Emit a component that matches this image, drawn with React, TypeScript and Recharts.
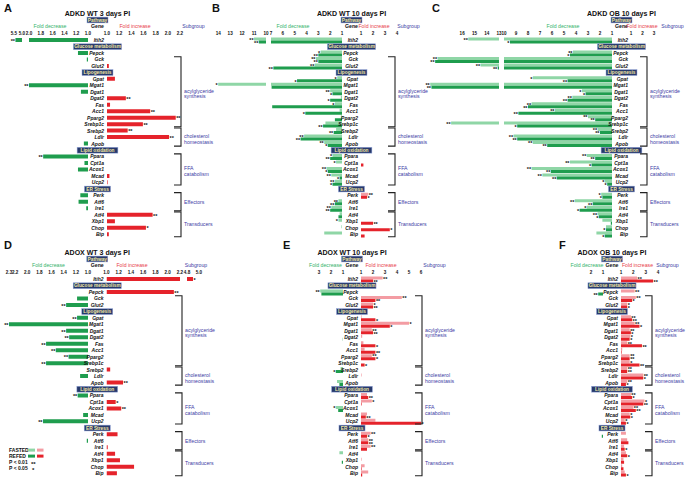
import React from 'react';
import { BarChart, Bar, XAxis, YAxis, LabelList } from 'recharts';

// gene rows, top to bottom
const GENES = [
  'Itih2', 'Pepck', 'Gck', 'Glut2', 'Gpat', 'Mgat1', 'Dgat1', 'Dgat2', 'Fas', 'Acc1',
  'Pparg2', 'Srebp1c', 'Srebp2', 'Ldlr', 'Apob', 'Ppara', 'Cpt1a', 'Acox1', 'Mcad', 'Ucp2',
  'Perk', 'Atf6', 'Ire1', 'Atf4', 'Xbp1', 'Chop', 'Bip',
];
const SECTIONS = ['Glucose metabolism', 'Lipogenesis', 'Lipid oxidation', 'ER Stress'];
const ROWS = [
  'Itih2', 'Glucose metabolism', 'Pepck', 'Gck', 'Glut2', 'Lipogenesis', 'Gpat', 'Mgat1', 'Dgat1',
  'Dgat2', 'Fas', 'Acc1', 'Pparg2', 'Srebp1c', 'Srebp2', 'Ldlr', 'Apob', 'Lipid oxidation', 'Ppara',
  'Cpt1a', 'Acox1', 'Mcad', 'Ucp2', 'ER Stress', 'Perk', 'Atf6', 'Ire1', 'Atf4', 'Xbp1', 'Chop', 'Bip',
];
const SUBGROUPS = [
  { first: 'Gck', last: 'Srebp1c', lines: ['acylglyceride', 'synthesis'] },
  { first: 'Srebp2', last: 'Apob', lines: ['cholesterol', 'homeostasis'] },
  { first: 'Ppara', last: 'Ucp2', lines: ['FFA', 'catabolism'] },
  { first: 'Perk', last: 'Ire1', lines: ['Effectors'] },
  { first: 'Atf4', last: 'Bip', lines: ['Transducers'] },
];

// fold change: negative = fold decrease, positive = fold increase
const A_REFED = [-5.4, -1.17, -1.02, 1.03, 1.13, -2.0, -1.12, 1.31, 1.05, 1.71, 2.13, 1.59, 1.34, 2.02, -1.07, -1.76, -1.06, -1.17, 1.04, 1.01, -1.13, -1.16, -1.03, 1.75, 1.13, 1.64, 1.03];
const A_SIG_R = ['**', '', '', '', '', '**', '', '**', '', '**', '**', '**', '**', '**', '', '**', '', '', '', '', '', '', '', '**', '', '*', ''];

const B_FASTED = [-11.0, -2.8, -3.2, -3.3, -1.4, -14.0, -2.0, -1.1, -1.6, -1.2, -1.1, -2.4, -1.5, -4.2, -2.5, -1.8, -1.5, -2.3, -1.9, -1.6, 1.6, -1.3, -1.9, -1.2, -1.3, -1.05, -2.5];
const B_REFED = [-10.6, -3.0, -3.0, -6.8, -4.8, -6.95, -1.8, -2.0, -6.9, -4.1, -1.6, -2.6, -1.7, -4.5, -2.2, -2.0, 1.2, -2.2, -1.2, -1.8, 1.5, -1.6, -2.0, -1.3, 2.0, 3.4, 1.3];
const B_SIG_F = ['**', '*', '**', '**', '*', '*', '**', '', '*', '', '', '', '', '**', '**', '*', '*', '**', '**', '**', '**', '**', '**', '', '*', '', ''];
const B_SIG_R = ['**', '**', '**', '**', '*', '', '*', '*', '', '*', '', '**', '**', '**', '*', '**', '', '*', '*', '*', '*', '**', '**', '', '**', '*', ''];

const C_FASTED = [-15.5, -4.25, -18.0, -14.5, -7.6, -18.6, -3.5, -4.3, -7.7, -5.75, -3.0, -16.9, -2.2, -9.2, -7.6, -3.1, -4.5, -7.7, -6.8, -1.6, -1.9, -4.1, -3.1, -2.2, -1.8, -1.5, -2.3];
const C_REFED = [-9.5, -4.5, -18.2, -13.1, -4.7, -18.5, -3.2, -4.7, -8.0, -8.8, -2.4, -8.9, -2.0, -8.9, -6.4, -2.4, -2.7, -6.1, -5.6, -1.4, -1.8, -2.6, -3.7, -2.1, -1.1, -1.5, -1.6];
const C_SIG_F = ['**', '**', '**', '**', '*', '**', '*', '**', '**', '**', '**', '**', '**', '**', '**', '**', '**', '**', '**', '*', '*', '**', '*', '**', '', '', ''];
const C_SIG_R = ['*', '*', '**', '**', '**', '**', '*', '**', '**', '**', '**', '*', '**', '**', '**', '**', '*', '**', '**', '*', '*', '**', '*', '*', '', '*', '*'];

const D_REFED = [4.9, 2.1, -1.18, -1.36, -1.18, -2.3, -1.36, -1.31, -1.69, -1.53, -1.32, -1.69, 1.06, -1.13, 1.27, -1.17, 1.15, 1.24, -1.08, -1.74, 1.18, -1.02, 1.02, 1.14, 1.22, 1.45, 1.17];
const D_SIG_R = ['*', '**', '', '**', '**', '**', '**', '**', '**', '**', '**', '**', '', '', '**', '**', '*', '**', '', '**', '', '', '', '', '', '', ''];

const E_FASTED = [2.8, -2.9, 4.4, 2.0, 1.05, 5.0, 1.9, 1.1, 1.2, 1.3, 1.9, -1.05, -1.2, 1.05, -1.5, 1.5, 1.9, -1.6, 1.5, 2.2, 1.8, 1.6, 1.8, -1.3, 1.05, 1.3, 1.6];
const E_REFED = [2.0, -2.8, 2.2, 2.0, 2.2, 3.4, 2.0, -1.02, 2.2, 2.2, 2.2, 1.3, -1.6, null, -1.3, 1.6, 1.05, -1.4, 1.4, 6.0, 1.5, 1.6, 1.5, null, -1.1, 1.05, 1.1];
const E_SIG_F = ['**', '**', '**', '*', '', '*', '**', '', '', '', '**', '', '', '', '', '', '*', '*', '', '', '**', '**', '**', '', '', '', ''];
const E_SIG_R = ['**', '', '**', '**', '*', '*', '**', '', '*', '**', '*', '*', '*', '', '', '**', '', '', '**', '*', '*', '**', '', '', '', '', ''];

const F_FASTED = [2.3, 2.1, 2.2, 1.5, 1.8, 2.1, 1.7, 1.75, 1.5, 1.1, 1.7, 1.7, 1.5, 2.8, 1.5, 1.8, 2.9, 2.0, 1.7, 1.3, 1.4, 1.5, 1.25, 1.4, 1.2, 1.1, 1.3];
const F_REFED = [3.6, -1.4, 1.9, 1.5, 1.9, 2.5, 1.8, 1.7, 2.7, 1.05, 1.7, 2.5, 1.5, 2.8, 1.4, 1.9, 2.8, 2.2, 1.75, 1.4, -1.1, 1.6, 1.3, 1.5, 1.25, 1.2, 1.4];
const F_SIG_F = ['**', '**', '**', '*', '**', '**', '**', '*', '**', '', '**', '*', '**', '**', '**', '**', '*', '**', '*', '*', '', '', '', '', '', '', ''];
const F_SIG_R = ['**', '**', '*', '*', '**', '*', '*', '*', '**', '', '**', '**', '**', '*', '*', '*', '**', '**', '*', '*', '', '', '*', '*', '', '', '*'];

const GREEN_D = '#1f9d4e';
const GREEN_L = '#8fd6a6';
const RED_D = '#e5232b';
const RED_L = '#f39ca3';
const NAVY = '#27396b';
const BLUE_TXT = '#3d3da6';

const ROW_H = 6.47;
const AXIS_H = 7;
const FONT = '"Liberation Sans", Arial, sans-serif';

type Seg = { domain: [number, number]; ticks: number[]; x0: number; x1: number };
type Panel = {
  id: string; title: string; letterX: number; dy: number; cx: number;
  decX: number; incX: number; subX: number; bracketX: number; labelX: number; digits: number;
  left: Seg[]; right: Seg[];
  fasted: (number | null)[] | null; refed: (number | null)[];
  sigF: string[] | null; sigR: string[];
};

const PANELS: Panel[] = [
  {
    id: 'A', title: 'ADKD WT 3 days PI', letterX: 4, dy: 0, cx: 97.5,
    decX: 50, incX: 135, subX: 193.5, bracketX: 181, labelX: 184, digits: 1,
    left: [
      { domain: [1, 2], ticks: [1, 1.2, 1.4, 1.6, 1.8, 2], x0: 88, x1: 29 },
      { domain: [5, 5.55], ticks: [5, 5.5], x0: 22, x1: 13 },
    ],
    right: [{ domain: [1, 2.2], ticks: [1, 1.2, 1.4, 1.6, 1.8, 2, 2.2], x0: 107, x1: 180 }],
    fasted: null, refed: A_REFED, sigF: null, sigR: A_SIG_R,
  },
  {
    id: 'B', title: 'ADKD WT 10 days PI', letterX: 212, dy: 0, cx: 351.5,
    decX: 293, incX: 374, subX: 408.5, bracketX: 395, labelX: 398, digits: 0,
    left: [
      { domain: [1, 7], ticks: [1, 2, 3, 4, 5, 6, 7], x0: 342, x1: 271 },
      { domain: [10, 14.1], ticks: [10, 11, 12, 13, 14], x0: 266, x1: 217 },
    ],
    right: [{ domain: [1, 4], ticks: [1, 2, 3, 4], x0: 361, x1: 397 }],
    fasted: B_FASTED, refed: B_REFED, sigF: B_SIG_F, sigR: B_SIG_R,
  },
  {
    id: 'C', title: 'ADKD OB 10 days PI', letterX: 432, dy: 0, cx: 621.5,
    decX: 563, incX: 642, subX: 672.5, bracketX: 647, labelX: 650, digits: 0,
    left: [
      { domain: [1, 10], ticks: [1, 2, 3, 4, 5, 6, 7, 8, 9, 10], x0: 612, x1: 504 },
      { domain: [13, 18.7], ticks: [13, 14, 15, 16], x0: 499, x1: 429 },
    ],
    right: [{ domain: [1, 3], ticks: [1, 2, 3], x0: 631, x1: 654 }],
    fasted: C_FASTED, refed: C_REFED, sigF: C_SIG_F, sigR: C_SIG_R,
  },
  {
    id: 'D', title: 'ADOX WT 3 days PI', letterX: 4, dy: 239, cx: 97.25,
    decX: 48.5, incX: 132, subX: 196, bracketX: 182, labelX: 185, digits: 1,
    left: [{ domain: [1, 2.3], ticks: [1, 1.2, 1.4, 1.6, 1.8, 2, 2.2, 2.3], x0: 88, x1: 9 }],
    right: [
      { domain: [1, 2.2], ticks: [1, 1.2, 1.4, 1.6, 1.8, 2, 2.2], x0: 106.5, x1: 180 },
      { domain: [4.8, 5.0], ticks: [4.8, 5.0], x0: 187, x1: 199 },
    ],
    fasted: null, refed: D_REFED, sigF: null, sigR: D_SIG_R,
  },
  {
    id: 'E', title: 'ADOX WT 10 days PI', letterX: 283, dy: 239, cx: 352,
    decX: 325.5, incX: 381, subX: 434.5, bracketX: 422, labelX: 425, digits: 0,
    left: [{ domain: [1, 3], ticks: [1, 2, 3], x0: 343, x1: 319 }],
    right: [{ domain: [1, 6], ticks: [1, 2, 3, 4, 5, 6], x0: 361, x1: 421 }],
    fasted: E_FASTED, refed: E_REFED, sigF: E_SIG_F, sigR: E_SIG_R,
  },
  {
    id: 'F', title: 'ADOX OB 10 days PI', letterX: 559, dy: 239, cx: 612,
    decX: 587, incX: 637.5, subX: 667.5, bracketX: 652, labelX: 655, digits: 0,
    left: [{ domain: [1, 2], ticks: [1, 2], x0: 603, x1: 591 }],
    right: [{ domain: [1, 4], ticks: [1, 2, 3, 4], x0: 621, x1: 658 }],
    fasted: F_FASTED, refed: F_REFED, sigF: F_SIG_F, sigR: F_SIG_R,
  },
];

const PLOT_TOP = 36.77;

function segRows(seg: Seg, side: 'L' | 'R', p: Panel) {
  const [lo, hi] = seg.domain;
  const part = (v: number | null | undefined, s: string): [number, string] => {
    if (v == null) return [lo, ''];
    const m = side === 'L' ? -v : v;
    if (m <= lo) return [lo, ''];
    return m > hi ? [hi, ''] : [m, s];
  };
  return ROWS.map((name) => {
    const g = GENES.indexOf(name);
    if (g < 0) return { name, f: lo, r: lo, sf: '', sr: '' };
    const [f, sf] = part(p.fasted ? p.fasted[g] : null, p.sigF ? p.sigF[g] : '');
    const [r, sr] = part(p.refed[g], p.sigR[g]);
    return { name, f, r, sf, sr };
  });
}

function stars(props: any, side: 'L' | 'R') {
  const v = props.value;
  if (!v) return null;
  const vb = props.viewBox || props;
  const a = vb.x;
  const b = vb.x + vb.width;
  const cy = vb.y + vb.height / 2;
  const end = side === 'L' ? Math.min(a, b) - 0.5 : Math.max(a, b) + 0.5;
  return (
    <text x={end} y={cy + 2.8} textAnchor={side === 'L' ? 'end' : 'start'} fontSize={5.5} fontWeight={700} fill="#111">
      {v}
    </text>
  );
}

function RowTick(props: any) {
  const { x, y, payload, colW } = props;
  const name = payload.value;
  if (SECTIONS.includes(name)) {
    const cx = x + 3 - colW / 2;
    const w = name.length * 2.45 + 4;
    return (
      <g>
        <rect x={cx - w / 2} y={y - 2.9} width={w} height={5.8} fill={NAVY} stroke="#8fa2d8" strokeWidth={0.5} />
        <text x={cx} y={y + 1.7} textAnchor="middle" fontSize={4.8} fontWeight={700} fill="#f3e8a4">{name}</text>
      </g>
    );
  }
  return (
    <text x={x} y={y + 1.8} textAnchor="end" fontSize={5} fontWeight={700} fontStyle="italic" fill="#111">{name}</text>
  );
}

function SegChart({ seg, side, p, colW }: { seg: Seg; side: 'L' | 'R'; p: Panel; colW: number }) {
  const two = p.fasted !== null;
  const rows = segRows(seg, side, p);
  const left = Math.min(seg.x0, seg.x1);
  const w = Math.abs(seg.x1 - seg.x0);
  const light = side === 'L' ? GREEN_L : RED_L;
  const dark = side === 'L' ? GREEN_D : RED_D;
  return (
    <div style={{ position: 'absolute', left: left - colW, top: PLOT_TOP + p.dy - AXIS_H }}>
      <BarChart
        width={w + colW}
        height={AXIS_H + ROWS.length * ROW_H}
        data={rows}
        layout="vertical"
        margin={{ top: 0, right: 0, bottom: 0, left: 0 }}
        barCategoryGap={two ? '8%' : '16%'}
        barGap={0}
      >
        <XAxis
          type="number"
          orientation="top"
          domain={seg.domain}
          ticks={seg.ticks}
          reversed={side === 'L'}
          allowDataOverflow
          height={AXIS_H}
          axisLine={false}
          tickLine={false}
          tickSize={0}
          tickMargin={2}
          interval={0}
          tick={{ fontSize: 4.6, fontWeight: 700, fill: '#111' }}
          tickFormatter={(v: number) => v.toFixed(p.digits)}
        />
        {colW > 0 ? (
          <YAxis
            type="category"
            dataKey="name"
            width={colW}
            axisLine={false}
            tickLine={false}
            tickSize={0}
            tickMargin={3}
            interval={0}
            tick={(tp: any) => <RowTick {...tp} colW={colW} />}
          />
        ) : (
          <YAxis type="category" dataKey="name" hide />
        )}
        {two && (
          <Bar dataKey="f" fill={light} isAnimationActive={false}>
            <LabelList dataKey="sf" content={(lp: any) => stars(lp, side)} />
          </Bar>
        )}
        <Bar dataKey="r" fill={dark} isAnimationActive={false}>
          <LabelList dataKey="sr" content={(lp: any) => stars(lp, side)} />
        </Bar>
      </BarChart>
    </div>
  );
}

function PanelText({ p }: { p: Panel }) {
  const d = p.dy;
  const rowY = (name: string) => PLOT_TOP + d + ROWS.indexOf(name) * ROW_H;
  return (
    <g>
      <text x={p.letterX} y={12.3 + (d ? 237 : 0)} fontSize={11} fontWeight={700} fill="#111">{p.id}</text>
      <text x={p.cx} y={15.6 + d} textAnchor="middle" fontSize={7} fontWeight={700} fill="#111">{p.title}</text>
      <rect x={p.cx - 10.5} y={17.1 + d} width={21} height={5.8} fill={NAVY} stroke="#8fa2d8" strokeWidth={0.5} />
      <text x={p.cx} y={21.8 + d} textAnchor="middle" fontSize={4.8} fontWeight={700} fill="#f3e8a4">Pathway</text>
      <text x={p.decX} y={27.9 + d} textAnchor="middle" fontSize={5.2} fill="#35b36c">Fold decrease</text>
      <text x={p.cx} y={27.9 + d} textAnchor="middle" fontSize={5.2} fontWeight={700} fill="#111">Gene</text>
      <text x={p.incX} y={27.9 + d} textAnchor="middle" fontSize={5.2} fill="#e8414a">Fold increase</text>
      <text x={p.subX} y={27.9 + d} textAnchor="middle" fontSize={5.2} fill={BLUE_TXT}>Subgroup</text>
      {SUBGROUPS.map((g) => {
        const y0 = rowY(g.first) + 0.6;
        const y1 = rowY(g.last) + ROW_H - 0.6;
        const bx = p.bracketX;
        const mid = (y0 + y1) / 2 + (g.lines.length > 1 ? 2 : 0);
        return (
          <g key={g.first}>
            <path d={`M${bx - 7},${y0}H${bx}V${y1}H${bx - 7}`} fill="none" stroke="#222" strokeWidth={1.1} />
            {g.lines.map((t, i) => (
              <text key={t} x={p.labelX} y={mid + (i - (g.lines.length - 1) / 2) * 5.8 + 1.8} fontSize={5.2} fill={BLUE_TXT}>{t}</text>
            ))}
          </g>
        );
      })}
    </g>
  );
}

function Legend() {
  return (
    <g fontSize={5} fontWeight={700} fill="#111">
      <text x={9} y={451.8}>FASTED</text>
      <rect x={28} y={448.6} width={7} height={3} fill={GREEN_L} />
      <rect x={37} y={448.6} width={6.5} height={3} fill={RED_L} />
      <text x={9} y={457.8}>REFED</text>
      <rect x={28} y={454.6} width={7} height={3} fill={GREEN_D} />
      <rect x={37} y={454.6} width={6.5} height={3} fill={RED_D} />
      <text x={9} y={463.8}>P &lt; 0.01</text>
      <text x={31} y={465.5} fontSize={6}>**</text>
      <text x={9} y={469.8}>P &lt; 0.05</text>
      <text x={32} y={471.5} fontSize={6}>*</text>
    </g>
  );
}

export default function App() {
  return (
    <div style={{ position: 'relative', width: 686, height: 480, background: '#fff', fontFamily: FONT, overflow: 'hidden' }}>
      <style>{`body{margin:0}.recharts-surface{overflow:visible}.recharts-wrapper{overflow:visible}`}</style>
      {PANELS.map((p) => (
        <React.Fragment key={p.id}>
          {p.left.map((s, i) => <SegChart key={`L${i}`} seg={s} side="L" p={p} colW={0} />)}
          {p.right.map((s, i) => (
            <SegChart key={`R${i}`} seg={s} side="R" p={p} colW={i === 0 ? s.x0 - p.left[0].x0 : 0} />
          ))}
        </React.Fragment>
      ))}
      <svg width={686} height={480} style={{ position: 'absolute', left: 0, top: 0, pointerEvents: 'none' }}>
        {PANELS.map((p) => <PanelText key={p.id} p={p} />)}
        <Legend />
      </svg>
    </div>
  );
}
